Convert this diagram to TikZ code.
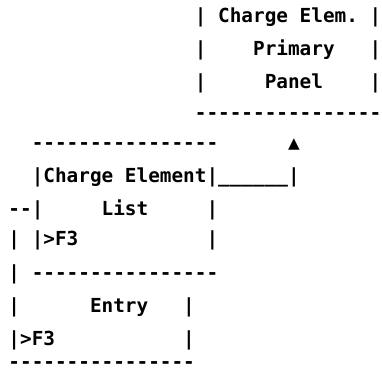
\documentclass[tikz,border=0pt]{standalone}
\usepackage{fontspec}
\newfontfamily\asciimono{DejaVu Sans Mono}
\begin{document}
\begin{tikzpicture}[x=1pt,y=1pt,
  asciirow/.style={anchor=base west,inner sep=0pt,outer sep=0pt,
    font=\asciimono\bfseries\fontsize{19.35}{19.35}\selectfont}]
\useasboundingbox (0,0) rectangle (382,372);
\def\lx{8.5}
\node[asciirow] (r0)  at (\lx,{372-22.4}) {~~~~~~~~~~~~~~~~|~Charge~Elem.~|};
\node[asciirow] (r1)  at (\lx,{372-55.4}) {~~~~~~~~~~~~~~~~|~~~~Primary~~~|};
\node[asciirow] (r2)  at (\lx,{372-88.4}) {~~~~~~~~~~~~~~~~|~~~~~Panel~~~~|};
\node[asciirow] (r3)  at (\lx,{372-119.5}) {~~~~~~~~~~~~~~~~-{}-{}-{}-{}-{}-{}-{}-{}-{}-{}-{}-{}-{}-{}-{}-};
\node[asciirow] (r4)  at (\lx,{372-150}) {~~-{}-{}-{}-{}-{}-{}-{}-{}-{}-{}-{}-{}-{}-{}-{}-~~~~~~▲};
\node[asciirow] (r5)  at (\lx,{372-182.4}) {~~|Charge~Element|\_\_\_\_\_\_|};
\node[asciirow] (r6)  at (\lx,{372-215.4}) {-{}-|~~~~~List~~~~~|};
\node[asciirow] (r7)  at (\lx,{372-245.4}) {|~|>F3~~~~~~~~~~~|};
\node[asciirow] (r8)  at (\lx,{372-279}) {|~-{}-{}-{}-{}-{}-{}-{}-{}-{}-{}-{}-{}-{}-{}-{}-};
\node[asciirow] (r9)  at (\lx,{372-312.4}) {|~~~~~~Entry~~~|};
\node[asciirow] (r10) at (\lx,{372-345.4}) {|>F3~~~~~~~~~~~|};
\node[asciirow,text depth=0pt] (r11) at (\lx,{372-368.5}) {-{}-{}-{}-{}-{}-{}-{}-{}-{}-{}-{}-{}-{}-{}-{}-};
\end{tikzpicture}
\end{document}
